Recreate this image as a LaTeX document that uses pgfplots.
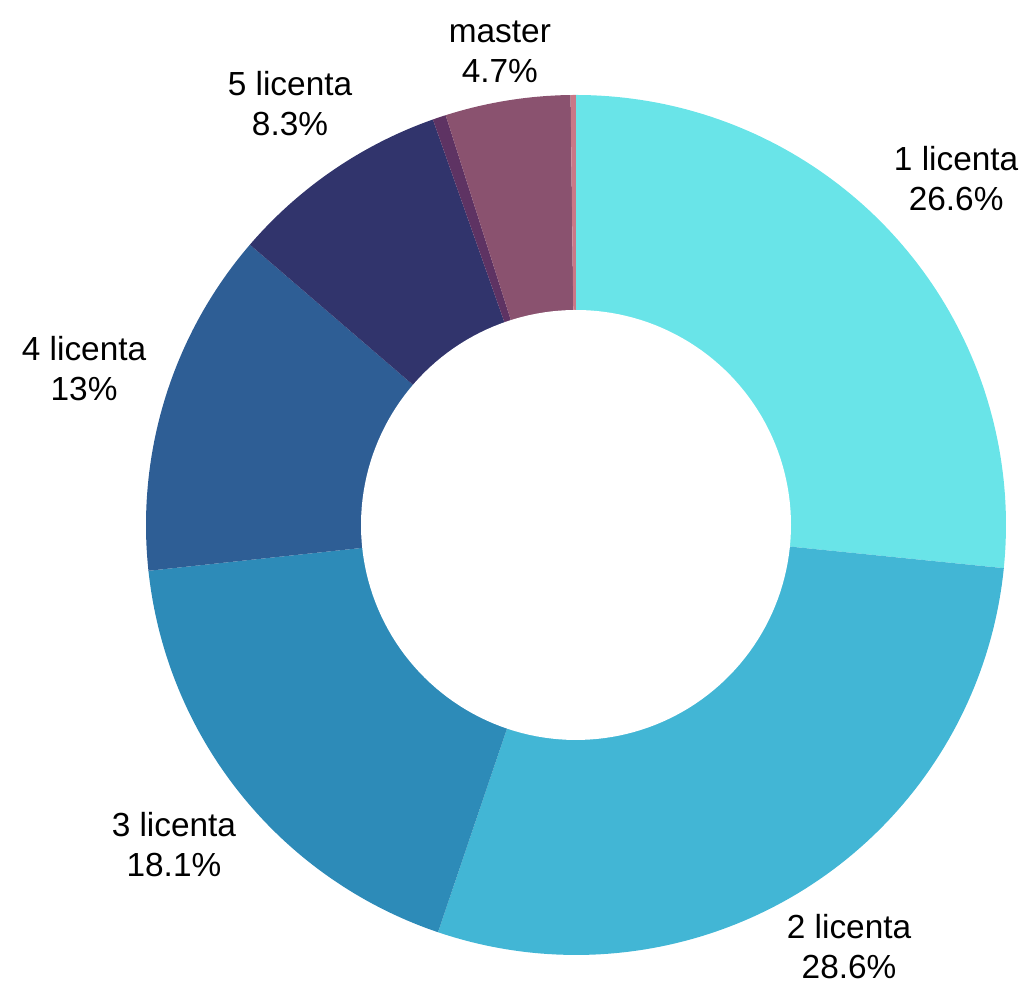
\documentclass[border=0pt]{standalone}
\usepackage{pgfplots}
\pgfplotsset{compat=1.18}
\usepackage{fontspec}
\setmainfont{Liberation Sans}
\definecolor{c1}{HTML}{69E4E8}
\definecolor{c2}{HTML}{42B6D5}
\definecolor{c3}{HTML}{2D8BB8}
\definecolor{c4}{HTML}{2E5E95}
\definecolor{c5}{HTML}{31346C}
\definecolor{c6}{HTML}{5E3363}
\definecolor{c7}{HTML}{8A526F}
\definecolor{c8}{HTML}{C97887}
\begin{document}
\begin{tikzpicture}
\begin{axis}[
  scale only axis, width=10.22cm, height=9.85cm,
  xmin=-1.3395, xmax=1.0372, ymin=-1.0698, ymax=1.2209,
  hide axis, clip=false,
  every axis plot/.append style={draw=none, samples=90, variable=\t},
]
% shares (percent), clockwise from 12 o'clock; cumulative: 26.6, 55.2, 73.3, 86.3, 94.6, 95.1, 99.8, 100
\addplot[fill=c1, domain=-5.76:90]      ({cos(t)},{sin(t)}) -- (axis cs:0,0) -- cycle;
\addplot[fill=c2, domain=-108.72:-5.76] ({cos(t)},{sin(t)}) -- (axis cs:0,0) -- cycle;
\addplot[fill=c3, domain=-173.88:-108.72] ({cos(t)},{sin(t)}) -- (axis cs:0,0) -- cycle;
\addplot[fill=c4, domain=-220.68:-173.88] ({cos(t)},{sin(t)}) -- (axis cs:0,0) -- cycle;
\addplot[fill=c5, domain=-250.56:-220.68] ({cos(t)},{sin(t)}) -- (axis cs:0,0) -- cycle;
\addplot[fill=c6, samples=10, domain=-252.36:-250.56] ({cos(t)},{sin(t)}) -- (axis cs:0,0) -- cycle;
\addplot[fill=c7, domain=-269.28:-252.36] ({cos(t)},{sin(t)}) -- (axis cs:0,0) -- cycle;
\addplot[fill=c8, samples=5, domain=-270:-269.28] ({cos(t)},{sin(t)}) -- (axis cs:0,0) -- cycle;
% hole
\addplot[fill=white, samples=180, domain=0:360] ({0.5*cos(t)},{0.5*sin(t)}) -- cycle;
\begin{scope}[every node/.style={align=center, font=\fontsize{9.5}{11.4}\selectfont}]
\node at (axis cs:0.884,0.805) {1 licenta\\26.6\%};
\node at (axis cs:0.635,-0.981) {2 licenta\\28.6\%};
\node at (axis cs:-0.935,-0.744) {3 licenta\\18.1\%};
\node at (axis cs:-1.144,0.364) {4 licenta\\13\%};
\node at (axis cs:-0.665,0.981) {5 licenta\\8.3\%};
\node at (axis cs:-0.177,1.101) {master\\4.7\%};
\end{scope}
\end{axis}
\pgfresetboundingbox
\path[use as bounding box] (current axis.south west) rectangle (current axis.north east);
\end{tikzpicture}
\end{document}
